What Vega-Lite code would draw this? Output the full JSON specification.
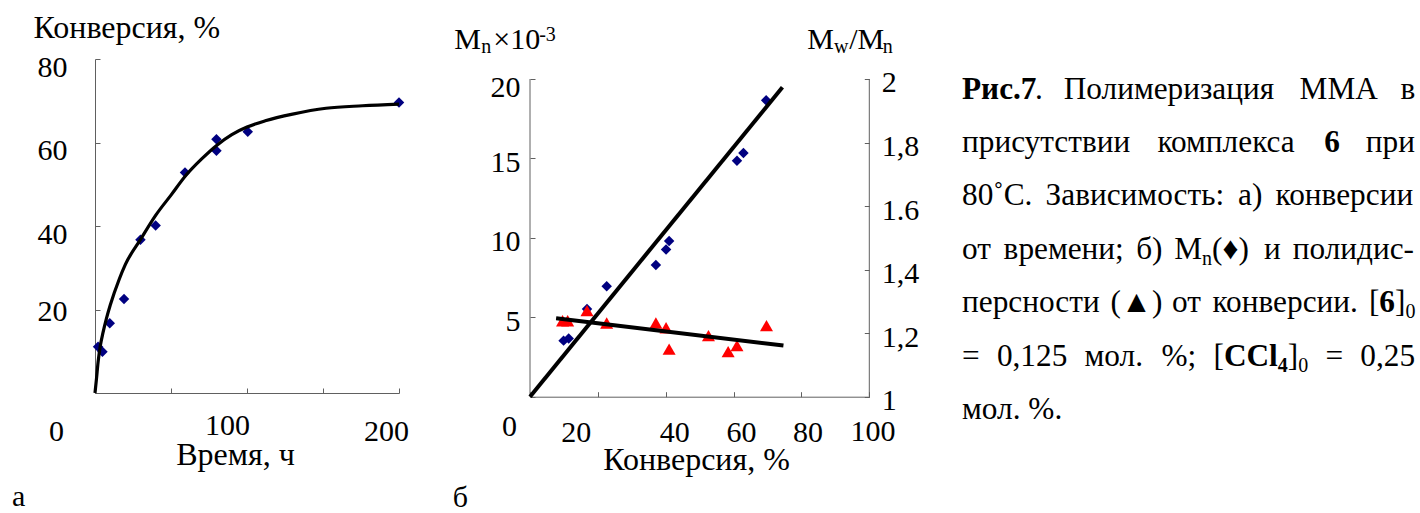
{
  "$schema": "https://vega.github.io/schema/vega-lite/v6.json",
  "background": "white",
  "padding": {"left": 12, "top": 11, "right": 0, "bottom": 0},
  "spacing": 43,
  "config": {
    "font": "Liberation Serif",
    "view": {"stroke": null},
    "axis": {
      "grid": false,
      "labelFont": "Liberation Serif",
      "titleFont": "Liberation Serif",
      "labelFontSize": 30,
      "titleFontSize": 32,
      "titleFontWeight": "normal",
      "labelColor": "black",
      "titleColor": "black",
      "domainColor": "#606060",
      "tickColor": "#606060",
      "tickSize": -5,
      "labelFlush": false,
      "labelOverlap": false
    }
  },
  "datasets": {
    "timeConv": [
      {"time": 2, "conv": 11.1}, {"time": 4.9, "conv": 9.9}, {"time": 9.7, "conv": 16.7},
      {"time": 19.1, "conv": 22.5}, {"time": 29.9, "conv": 36.7}, {"time": 39.9, "conv": 40.1},
      {"time": 59.2, "conv": 52.8}, {"time": 79.9, "conv": 60.8}, {"time": 79.9, "conv": 58.0},
      {"time": 100.5, "conv": 62.6}, {"time": 200, "conv": 69.6}
    ],
    "timeFit": [
      {"time": 0, "conv": 0}, {"time": 1, "conv": 3.5}, {"time": 2, "conv": 7.3}, {"time": 3.5, "conv": 11.3},
      {"time": 5.3, "conv": 14.5}, {"time": 7.5, "conv": 17.8}, {"time": 10, "conv": 21}, {"time": 16, "conv": 27.3},
      {"time": 20, "conv": 30.8}, {"time": 30, "conv": 36.8}, {"time": 40, "conv": 42.6}, {"time": 50, "conv": 47.4},
      {"time": 60, "conv": 52.2}, {"time": 70, "conv": 56.0}, {"time": 80, "conv": 59.3}, {"time": 90, "conv": 61.9},
      {"time": 100, "conv": 63.7}, {"time": 112, "conv": 65.2}, {"time": 130, "conv": 66.8}, {"time": 152, "conv": 68.2},
      {"time": 176, "conv": 68.8}, {"time": 200, "conv": 69.2}
    ],
    "mn": [
      {"conv": 9.9, "mn": 3.53}, {"conv": 11.4, "mn": 3.67}, {"conv": 16.8, "mn": 5.52}, {"conv": 22.6, "mn": 6.95},
      {"conv": 37.1, "mn": 8.29}, {"conv": 40.1, "mn": 9.26}, {"conv": 41.0, "mn": 9.8}, {"conv": 61.0, "mn": 14.86},
      {"conv": 62.9, "mn": 15.34}, {"conv": 69.6, "mn": 18.66}
    ],
    "mnFit": [{"conv": 0, "mn": 0}, {"conv": 74.4, "mn": 19.48}],
    "pdi": [
      {"conv": 9.6, "pdi": 1.239}, {"conv": 11.1, "pdi": 1.239}, {"conv": 16.8, "pdi": 1.271}, {"conv": 22.6, "pdi": 1.232},
      {"conv": 37.1, "pdi": 1.232}, {"conv": 40.1, "pdi": 1.217}, {"conv": 41.0, "pdi": 1.15}, {"conv": 52.6, "pdi": 1.192},
      {"conv": 58.4, "pdi": 1.142}, {"conv": 61.0, "pdi": 1.161}, {"conv": 69.7, "pdi": 1.224}
    ],
    "pdiFit": [{"conv": 7.7, "pdi": 1.247}, {"conv": 74.7, "pdi": 1.161}],
    "axisLinesB": [{"conv": 0, "lo": 0, "hi": 20}, {"conv": 100, "lo": 0, "hi": 20}],
    "annotB": [
      {"conv": -22.3, "mn": 21.89, "text": "M", "kind": "normal"},
      {"conv": -14.4, "mn": 21.64, "text": "n", "kind": "sub"},
      {"conv": -10.8, "mn": 21.89, "text": "×10", "kind": "normal"},
      {"conv": 2.7, "mn": 22.39, "text": "-3", "kind": "sup"},
      {"conv": 81.7, "mn": 21.89, "text": "M", "kind": "normal"},
      {"conv": 89.6, "mn": 21.64, "text": "w", "kind": "sub"},
      {"conv": 94.1, "mn": 21.89, "text": "/M", "kind": "normal"},
      {"conv": 104.0, "mn": 21.64, "text": "n", "kind": "sub"}
    ],
    "caption": [
      {"line": 1, "pos": 0, "text": "Рис.7", "kind": "bold"},
      {"line": 1, "pos": 73, "text": ".", "kind": "normal"},
      {"line": 1, "pos": 101.7, "text": "Полимеризация", "kind": "normal"},
      {"line": 1, "pos": 337.6, "text": "ММА", "kind": "normal"},
      {"line": 1, "pos": 438.5, "text": "в", "kind": "normal"},
      {"line": 2, "pos": 0, "text": "присутствии", "kind": "normal"},
      {"line": 2, "pos": 195.4, "text": "комплекса", "kind": "normal"},
      {"line": 2, "pos": 362.3, "text": "6", "kind": "bold"},
      {"line": 2, "pos": 403.8, "text": "при", "kind": "normal"},
      {"line": 3, "pos": 0, "text": "80˚С.", "kind": "normal"},
      {"line": 3, "pos": 83.6, "text": "Зависимость:", "kind": "normal"},
      {"line": 3, "pos": 276.1, "text": "а)", "kind": "normal"},
      {"line": 3, "pos": 313.6, "text": "конверсии", "kind": "normal"},
      {"line": 4, "pos": 0, "text": "от", "kind": "normal"},
      {"line": 4, "pos": 41.6, "text": "времени;", "kind": "normal"},
      {"line": 4, "pos": 174.2, "text": "б)", "kind": "normal"},
      {"line": 4, "pos": 212.3, "text": "M", "kind": "normal"},
      {"line": 4, "pos": 240.1, "text": "n", "kind": "sub"},
      {"line": 4, "pos": 250.1, "text": "(♦)", "kind": "normal"},
      {"line": 4, "pos": 302, "text": "и", "kind": "normal"},
      {"line": 4, "pos": 330.7, "text": "полидис-", "kind": "normal"},
      {"line": 5, "pos": 0, "text": "персности", "kind": "normal"},
      {"line": 5, "pos": 148.5, "text": "(▲)", "kind": "normal"},
      {"line": 5, "pos": 210, "text": "от", "kind": "normal"},
      {"line": 5, "pos": 250.5, "text": "конверсии.", "kind": "normal"},
      {"line": 5, "pos": 406.9, "text": "[", "kind": "normal"},
      {"line": 5, "pos": 417.3, "text": "6", "kind": "bold"},
      {"line": 5, "pos": 433, "text": "]", "kind": "normal"},
      {"line": 5, "pos": 443.4, "text": "0", "kind": "sub"},
      {"line": 6, "pos": 0, "text": "=", "kind": "normal"},
      {"line": 6, "pos": 34.9, "text": "0,125", "kind": "normal"},
      {"line": 6, "pos": 122.5, "text": "мол.", "kind": "normal"},
      {"line": 6, "pos": 199.5, "text": "%;", "kind": "normal"},
      {"line": 6, "pos": 251.5, "text": "[", "kind": "normal"},
      {"line": 6, "pos": 261.9, "text": "CCl", "kind": "bold"},
      {"line": 6, "pos": 315.8, "text": "4", "kind": "boldsub"},
      {"line": 6, "pos": 325.8, "text": "]", "kind": "normal"},
      {"line": 6, "pos": 336.2, "text": "0", "kind": "sub"},
      {"line": 6, "pos": 363.4, "text": "=", "kind": "normal"},
      {"line": 6, "pos": 398.3, "text": "0,25", "kind": "normal"},
      {"line": 7, "pos": 0, "text": "мол. %.", "kind": "normal"}
    ]
  },
  "hconcat": [
    {
      "width": 304,
      "height": 334,
      "title": {"text": "а", "orient": "bottom", "anchor": "start", "frame": "bounds", "font": "Liberation Serif", "fontSize": 30, "fontWeight": "normal", "color": "black", "baseline": "alphabetic", "offset": 36, "dx": -21},
      "layer": [
        {
          "data": {"name": "timeConv"},
          "mark": {"type": "point", "shape": "diamond", "filled": true, "color": "#000080", "opacity": 1, "size": 110},
          "encoding": {
            "x": {"field": "time", "type": "quantitative", "scale": {"domain": [0, 200], "nice": false, "zero": false},
              "axis": {"values": [0, 50, 100, 150, 200], "labelExpr": "datum.value == 50 || datum.value == 150 ? '' : datum.label",
                "title": "Время, ч", "titleX": 140, "titleY": 71, "titleAlign": "center", "titleBaseline": "alphabetic",
                "labelBaseline": "alphabetic",
                "labelPadding": {"condition": {"test": "datum.value == 100", "value": 46}, "value": 52},
                "labelOffset": {"condition": [{"test": "datum.value == 0", "value": -39}, {"test": "datum.value == 100", "value": -20}], "value": -13}}},
            "y": {"field": "conv", "type": "quantitative", "scale": {"domain": [0, 80], "nice": false},
              "axis": {"values": [0, 20, 40, 60, 80], "labelExpr": "datum.value == 0 ? '' : datum.label",
                "title": "Конверсия, %", "titleAngle": 0, "titleX": -62, "titleY": -22, "titleAlign": "left", "titleBaseline": "alphabetic",
                "labelPadding": 33,
                "labelOffset": {"condition": {"test": "datum.value == 20", "value": 2}, "value": 8}}}
          }
        },
        {
          "data": {"name": "timeFit"},
          "mark": {"type": "line", "interpolate": "monotone", "color": "black", "strokeWidth": 3.2},
          "encoding": {
            "x": {"field": "time", "type": "quantitative"},
            "y": {"field": "conv", "type": "quantitative"}
          }
        }
      ]
    },
    {
      "width": 339.3,
      "height": 337.7,
      "title": {"text": "б", "orient": "bottom", "anchor": "start", "frame": "bounds", "font": "Liberation Serif", "fontSize": 30, "fontWeight": "normal", "color": "black", "baseline": "alphabetic", "offset": 31, "dx": -1.5},
      "layer": [
        {
          "data": {"name": "axisLinesB"},
          "mark": {"type": "rule", "color": "#606060", "strokeWidth": 1},
          "encoding": {
            "x": {"field": "conv", "type": "quantitative", "scale": {"domain": [0, 100], "nice": false, "zero": false},
              "axis": {"values": [0, 20, 40, 60, 80, 100], "title": "Конверсия, %", "titleX": 166, "titleY": 73, "titleAlign": "center", "titleBaseline": "alphabetic",
                "labelBaseline": "alphabetic",
                "labelPadding": {"condition": [{"test": "datum.value == 0", "value": 44}, {"test": "datum.value == 100", "value": 49}], "value": 50},
                "labelOffset": {"condition": [{"test": "datum.value == 0", "value": -21}, {"test": "datum.value == 20", "value": -22}, {"test": "datum.value == 40", "value": 8.5}, {"test": "datum.value == 60", "value": 7.4}, {"test": "datum.value == 80", "value": 6}], "value": 3.3}}},
            "y": {"field": "lo", "type": "quantitative", "scale": {"domain": [0, 21.259], "nice": false}, "axis": null},
            "y2": {"field": "hi"}
          }
        },
        {
          "data": {"name": "mn"},
          "mark": {"type": "point", "shape": "diamond", "filled": true, "color": "#000080", "opacity": 1, "size": 110},
          "encoding": {
            "x": {"field": "conv", "type": "quantitative"},
            "y": {"field": "mn", "type": "quantitative", "scale": {"domain": [0, 21.259], "nice": false},
              "axis": {"orient": "left", "domain": false, "values": [0, 5, 10, 15, 20], "labelExpr": "datum.value == 0 ? '' : datum.label", "title": null,
                "labelPadding": 15,
                "labelOffset": {"condition": {"test": "datum.value == 20", "value": 9}, "value": 4}}}
          }
        },
        {
          "data": {"name": "pdi"},
          "mark": {"type": "point", "shape": "triangle-up", "filled": true, "color": "#ff0000", "opacity": 1, "size": 170},
          "encoding": {
            "x": {"field": "conv", "type": "quantitative"},
            "y": {"field": "pdi", "type": "quantitative", "scale": {"domain": [1, 2.06295], "nice": false, "zero": false},
              "axis": {"orient": "right", "domain": false, "values": [1, 1.2, 1.4, 1.6, 1.8, 2],
                "labelExpr": "datum.value == 1 ? '1' : datum.value == 2 ? '2' : datum.value == 1.6 ? '1.6' : replace(format(datum.value, '.1f'), '.', ',')",
                "title": null, "labelPadding": 17, "labelOffset": 4}}
          }
        },
        {
          "data": {"name": "mnFit"},
          "mark": {"type": "line", "color": "black", "strokeWidth": 4},
          "encoding": {
            "x": {"field": "conv", "type": "quantitative"},
            "y": {"field": "mn", "type": "quantitative", "scale": {"domain": [0, 21.259], "nice": false}, "axis": null}
          }
        },
        {
          "data": {"name": "pdiFit"},
          "mark": {"type": "line", "color": "black", "strokeWidth": 4},
          "encoding": {
            "x": {"field": "conv", "type": "quantitative"},
            "y": {"field": "pdi", "type": "quantitative", "scale": {"domain": [1, 2.06295], "nice": false, "zero": false}, "axis": null}
          }
        },
        {
          "data": {"name": "annotB"},
          "transform": [{"filter": "datum.kind == 'normal'"}],
          "mark": {"type": "text", "align": "left", "baseline": "alphabetic", "font": "Liberation Serif", "fontSize": 30, "color": "black"},
          "encoding": {
            "x": {"field": "conv", "type": "quantitative"},
            "y": {"field": "mn", "type": "quantitative", "scale": {"domain": [0, 21.259], "nice": false}, "axis": null},
            "text": {"field": "text"}
          }
        },
        {
          "data": {"name": "annotB"},
          "transform": [{"filter": "datum.kind != 'normal'"}],
          "mark": {"type": "text", "align": "left", "baseline": "alphabetic", "font": "Liberation Serif", "fontSize": 20, "color": "black"},
          "encoding": {
            "x": {"field": "conv", "type": "quantitative"},
            "y": {"field": "mn", "type": "quantitative", "scale": {"domain": [0, 21.259], "nice": false}, "axis": null},
            "text": {"field": "text"}
          }
        }
      ],
      "resolve": {"scale": {"y": "independent"}, "axis": {"y": "independent"}}
    },
    {
      "width": 453.3,
      "height": 386.6,
      "data": {"name": "caption"},
      "encoding": {
        "x": {"field": "pos", "type": "quantitative", "scale": {"domain": [0, 453.3], "nice": false, "zero": false}, "axis": null},
        "y": {"field": "line", "type": "quantitative", "scale": {"domain": [0.26, 7.5], "nice": false, "zero": false, "reverse": true}, "axis": null},
        "text": {"field": "text"}
      },
      "layer": [
        {"transform": [{"filter": "datum.kind == 'normal'"}], "mark": {"type": "text", "align": "left", "baseline": "alphabetic", "font": "Liberation Serif", "fontSize": 31.3, "color": "black"}},
        {"transform": [{"filter": "datum.kind == 'bold'"}], "mark": {"type": "text", "align": "left", "baseline": "alphabetic", "font": "Liberation Serif", "fontSize": 31.3, "fontWeight": "bold", "color": "black"}},
        {"transform": [{"filter": "datum.kind == 'sub'"}], "mark": {"type": "text", "align": "left", "baseline": "alphabetic", "font": "Liberation Serif", "fontSize": 20, "dy": 6, "color": "black"}},
        {"transform": [{"filter": "datum.kind == 'boldsub'"}], "mark": {"type": "text", "align": "left", "baseline": "alphabetic", "font": "Liberation Serif", "fontSize": 20, "fontWeight": "bold", "dy": 6, "color": "black"}}
      ]
    }
  ]
}
